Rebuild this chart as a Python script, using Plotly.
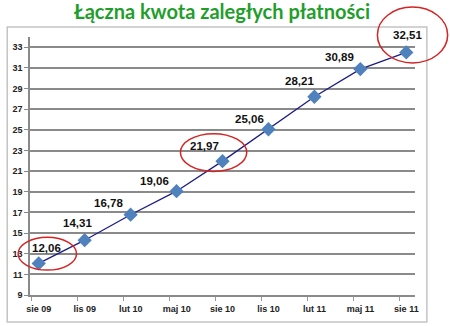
import plotly.graph_objects as go

categories = ["sie 09", "lis 09", "lut 10", "maj 10", "sie 10", "lis 10", "lut 11", "maj 11", "sie 11"]
values = [12.06, 14.31, 16.78, 19.06, 21.97, 25.06, 28.21, 30.89, 32.51]
value_labels = ["12,06", "14,31", "16,78", "19,06", "21,97", "25,06", "28,21", "30,89", "32,51"]
y_ticks = [9, 11, 13, 15, 17, 19, 21, 23, 25, 27, 29, 31, 33]

# label offsets in pixels (style)
label_dx = [8, -7, -22, -22, -18, -19, -15, -21, 1]
label_dy = [15, 17, 12, 10, 15, 10, 16, 12, 17]

W, H = 450, 326
L, R, T, B = 26, 35, 37, 30
PW, PH = W - L - R, H - T - B

def px(x):
    return (x - L) / PW

def py(y):
    return (H - B - y) / PH

idx = list(range(len(categories)))

fig = go.Figure()
fig.add_trace(go.Scatter(
    x=idx, y=values, mode="lines+markers",
    line=dict(color="#1c1c86", width=1.3),
    marker=dict(symbol="diamond", size=11, color="#4f81bd", line=dict(width=0)),
    hoverinfo="skip", showlegend=False,
))

annotations = []
for i, (v, t) in enumerate(zip(values, value_labels)):
    annotations.append(dict(
        x=i, y=v, xref="x", yref="y", text="<b>" + t + "</b>", showarrow=False,
        xshift=label_dx[i], yshift=label_dy[i],
        font=dict(family="Arial, Liberation Sans", size=11.5, color="#111111"),
    ))

shapes = [
    # outer box
    dict(type="rect", xref="paper", yref="paper", x0=px(3), x1=px(427), y0=py(323), y1=py(27),
         line=dict(color="#c4c4c4", width=1.5), layer="below"),
    # red ellipses
    dict(type="circle", xref="paper", yref="paper", x0=px(14), x1=px(73), y0=py(271), y1=py(238),
         line=dict(color="#d42424", width=1.5)),
    dict(type="circle", xref="paper", yref="paper", x0=px(178), x1=px(245), y0=py(172), y1=py(134),
         line=dict(color="#d42424", width=1.5)),
    dict(type="circle", xref="paper", yref="paper", x0=px(377), x1=px(448), y0=py(63), y1=py(7),
         line=dict(color="#d42424", width=1.5)),
]

tick_font = dict(family="Arial, Liberation Sans", size=9, color="#222222")

fig.update_layout(
    width=W, height=H,
    margin=dict(l=L, r=R, t=T, b=B),
    paper_bgcolor="white", plot_bgcolor="white",
    title=dict(text="<b>Łączna kwota zaległych płatności</b>", x=222 / W, xanchor="center",
               y=1 - 12 / H, yanchor="middle",
               font=dict(family="Lato, Open Sans", size=20, color="#1f9e2c")),
    xaxis=dict(range=[-0.19, 8.19], tickvals=[i - 0.15 for i in idx],
               ticktext=["<b>" + c + "</b>" for c in categories],
               ticklabelshift=7, ticks="outside", ticklen=4, tickcolor="#999999",
               showgrid=False, zeroline=False, showline=True, linecolor="#8a8a8a", linewidth=1.5,
               tickfont=tick_font, fixedrange=True),
    yaxis=dict(range=[9, 34], tickvals=y_ticks, ticktext=["<b>%d</b>" % v for v in y_ticks],
               ticks="outside", ticklen=4, tickcolor="#8a8a8a",
               showgrid=True, gridcolor="#8a8a8a", gridwidth=1.5, zeroline=False,
               showline=True, linecolor="#8a8a8a", linewidth=1.5,
               tickfont=tick_font, fixedrange=True),
    annotations=annotations,
    shapes=shapes,
)

fig.write_html("out.html")
